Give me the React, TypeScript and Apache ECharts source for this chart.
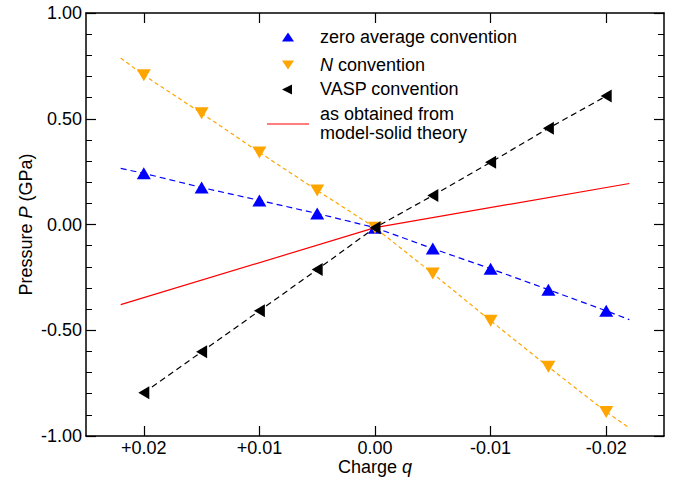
import React, { useEffect, useRef } from "react";
import * as echarts from "echarts";

// Charge q values of the computed points (x axis is reversed: + on the left)
const charges = [0.02, 0.015, 0.01, 0.005, 0, -0.005, -0.01, -0.015, -0.02];
// Pressure P (GPa) per convention
const zeroAverage = [0.242, 0.175, 0.114, 0.052, -0.015, -0.114, -0.209, -0.308, -0.408];
const nConvention = [0.706, 0.526, 0.341, 0.161, -0.015, -0.232, -0.455, -0.673, -0.886];
const vaspConvention = [-0.796, -0.602, -0.408, -0.213, -0.015, 0.137, 0.294, 0.455, 0.607];
// dashed guide lines extend past the outermost points
const fitEndCharges = [0.022, -0.022];
const zeroAverageEnds = [0.265, -0.45];
const nConventionEnds = [0.787, -0.962];
// model-solid theory (solid red)
const modelCharges = [0.022, 0, -0.022];
const modelPressure = [-0.379, -0.015, 0.194];
// tick values
const xTicks = [-0.02, -0.01, 0, 0.01, 0.02];

const FONT = "'Liberation Sans', Arial, Helvetica, sans-serif";

const pts = (xs: number[], ys: number[]) => xs.map((x, i) => [x, ys[i]]);
const withEnds = (ys: number[], ends: number[]) => [
  [fitEndCharges[0], ends[0]],
  ...pts(charges, ys),
  [fitEndCharges[1], ends[1]],
];

export default function App() {
  const ref = useRef<HTMLDivElement>(null);
  useEffect(() => {
    if (!ref.current) return;
    const chart = echarts.init(ref.current, undefined, { renderer: "svg" });
    const fmtX = (v: number) => {
      if (Math.abs(v) < 1e-9) return "0.00";
      return (v > 0 ? "+" : "") + v.toFixed(2);
    };
    const axisLine = { show: true, onZero: false, lineStyle: { color: "#000", width: 1.5 } };
    const label = { color: "#000", fontSize: 18, fontFamily: FONT };
    const option: any = {
      animation: false,
      backgroundColor: "#fff",
      grid: { left: 86, right: 9, top: 13, bottom: 45, containLabel: false },
      xAxis: [
        {
          type: "value",
          position: "bottom",
          inverse: true,
          min: -0.025,
          max: 0.025,
          axisLine,
          splitLine: { show: false },
          axisTick: { show: true, inside: true, length: 10, customValues: xTicks, lineStyle: { color: "#000", width: 1.2 } },
          axisLabel: { ...label, margin: 3, customValues: xTicks, formatter: fmtX },
          name: "Charge {i|q}",
          nameLocation: "middle",
          nameGap: 22,
          nameMoveOverlap: false,
          nameTextStyle: {
            ...label,
            rich: { i: { fontStyle: "italic", fontSize: 18, fontFamily: FONT, color: "#000" } },
          },
        },
        {
          type: "value",
          position: "top",
          inverse: true,
          min: -0.025,
          max: 0.025,
          axisLine,
          splitLine: { show: false },
          axisTick: { show: true, inside: true, length: 10, customValues: xTicks, lineStyle: { color: "#000", width: 1.2 } },
          axisLabel: { show: false },
        },
      ],
      yAxis: [
        {
          type: "value",
          position: "left",
          min: -1,
          max: 1,
          interval: 0.5,
          axisLine,
          splitLine: { show: false },
          axisTick: { show: true, inside: true, length: 10, lineStyle: { color: "#000", width: 1.2 } },
          minorTick: { show: true, splitNumber: 5, length: 6, lineStyle: { color: "#000", width: 1 } },
          minorSplitLine: { show: false },
          axisLabel: { ...label, margin: 4, formatter: (v: number) => v.toFixed(2) },
          name: "Pressure {i|P} (GPa)",
          nameLocation: "middle",
          nameGap: 51,
          nameRotate: 90,
          nameMoveOverlap: false,
          nameTextStyle: {
            ...label,
            rich: { i: { fontStyle: "italic", fontSize: 18, fontFamily: FONT, color: "#000" } },
          },
        },
        {
          type: "value",
          position: "right",
          min: -1,
          max: 1,
          interval: 0.5,
          axisLine,
          splitLine: { show: false },
          axisTick: { show: true, inside: true, length: 10, lineStyle: { color: "#000", width: 1.2 } },
          minorTick: { show: true, splitNumber: 5, length: 6, lineStyle: { color: "#000", width: 1 } },
          axisLabel: { show: false },
        },
      ],
      series: [
        {
          type: "line",
          data: pts(modelCharges, modelPressure),
          showSymbol: false,
          lineStyle: { color: "#ff0000", width: 1.2 },
          z: 2,
        },
        {
          type: "line",
          data: withEnds(zeroAverage, zeroAverageEnds),
          showSymbol: false,
          lineStyle: { color: "#0000ff", width: 1.2, type: [6, 4] },
          z: 2,
        },
        {
          type: "line",
          data: withEnds(nConvention, nConventionEnds),
          showSymbol: false,
          lineStyle: { color: "#ffa500", width: 1.2, type: [4, 3] },
          z: 2,
        },
        {
          type: "line",
          data: pts(charges, vaspConvention),
          showSymbol: false,
          lineStyle: { color: "#000000", width: 1.2, type: [6, 4] },
          z: 2,
        },
        {
          name: "zero average convention",
          type: "scatter",
          data: pts(charges, zeroAverage),
          symbol: "triangle",
          symbolSize: [14, 12],
          itemStyle: { color: "#0000ff", opacity: 1 },
          z: 3,
        },
        {
          name: "N convention",
          type: "scatter",
          data: pts(charges, nConvention),
          symbol: "triangle",
          symbolRotate: 180,
          symbolSize: [14, 12],
          itemStyle: { color: "#ffa500", opacity: 1 },
          z: 3,
        },
        {
          name: "VASP convention",
          type: "scatter",
          data: pts(charges, vaspConvention),
          symbol: "triangle",
          symbolRotate: 90,
          symbolSize: [13, 11],
          itemStyle: { color: "#000000", opacity: 1 },
          z: 4,
        },
      ],
      graphic: [
        { type: "polygon", shape: { points: [[282, 41.5], [294, 41.5], [288, 32.5]] }, style: { fill: "#0000ff" } },
        { type: "polygon", shape: { points: [[282, 60.5], [294, 60.5], [288, 69.5]] }, style: { fill: "#ffa500" } },
        { type: "polygon", shape: { points: [[282, 89.5], [292, 84.5], [292, 94.5]] }, style: { fill: "#000" } },
        { type: "line", shape: { x1: 267, y1: 124, x2: 309, y2: 124 }, style: { stroke: "#ff0000", lineWidth: 1.2 } },
        {
          type: "text", x: 320, y: 37,
          style: { text: "zero average convention", fill: "#000", font: `18px ${FONT}`, verticalAlign: "middle" },
        },
        {
          type: "text", x: 320, y: 65,
          style: {
            text: "{i|N} convention", fill: "#000", font: `18px ${FONT}`, verticalAlign: "middle",
            rich: { i: { fontStyle: "italic", fontSize: 18, fontFamily: FONT, fill: "#000" } },
          },
        },
        {
          type: "text", x: 320, y: 89,
          style: { text: "VASP convention", fill: "#000", font: `18px ${FONT}`, verticalAlign: "middle" },
        },
        {
          type: "text", x: 320, y: 114,
          style: { text: "as obtained from", fill: "#000", font: `18px ${FONT}`, verticalAlign: "middle" },
        },
        {
          type: "text", x: 320, y: 133,
          style: { text: "model-solid theory", fill: "#000", font: `18px ${FONT}`, verticalAlign: "middle" },
        },
      ],
    };
    chart.setOption(option);
    return () => chart.dispose();
  }, []);
  return (
    <div
      ref={ref}
      style={{ position: "fixed", left: 0, top: 0, width: 673, height: 481, background: "#fff" }}
    />
  );
}
